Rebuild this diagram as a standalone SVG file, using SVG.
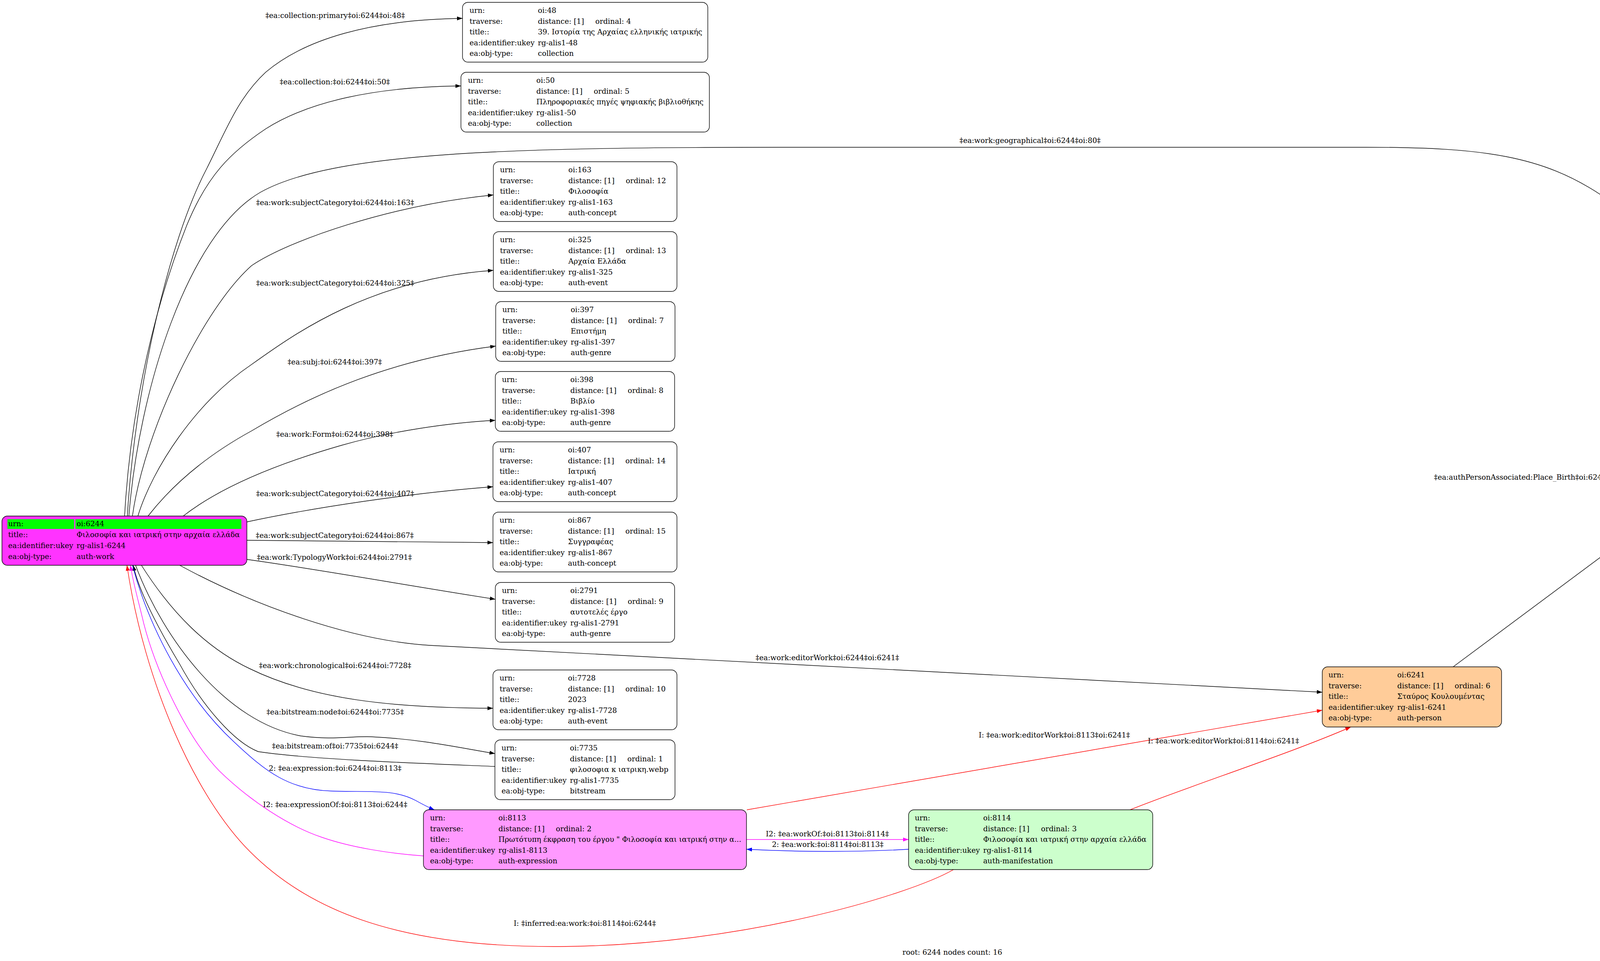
<svg xmlns="http://www.w3.org/2000/svg" width="4876" height="2460" viewBox="0 0 4876 2460">
<style>
text{font-family:"DejaVu Serif","Liberation Serif",serif;font-size:18.67px;fill:#000}
.n rect.b{stroke:#000;stroke-width:1.4;fill:#fff}
.e path{fill:none;stroke:#000;stroke-width:1.4}
.e text{text-anchor:middle}
.e.r path{stroke:#f00}
.e.bl path{stroke:#00f}
.e.m path{stroke:#f0f}
</style>
<defs>
<marker id="ak" markerUnits="userSpaceOnUse" markerWidth="14" markerHeight="10" refX="14" refY="5" orient="auto"><path d="M0,0L14,5L0,10z" fill="#000"/></marker>
<marker id="ar" markerUnits="userSpaceOnUse" markerWidth="14" markerHeight="10" refX="14" refY="5" orient="auto"><path d="M0,0L14,5L0,10z" fill="#f00"/></marker>
<marker id="ab" markerUnits="userSpaceOnUse" markerWidth="14" markerHeight="10" refX="14" refY="5" orient="auto"><path d="M0,0L14,5L0,10z" fill="#00f"/></marker>
<marker id="am" markerUnits="userSpaceOnUse" markerWidth="14" markerHeight="10" refX="14" refY="5" orient="auto"><path d="M0,0L14,5L0,10z" fill="#f0f"/></marker>
</defs>
<rect width="4876" height="2460" fill="#fff"/>

<g id="connectors">
<g class="e" id="e48"><path d="M326,1321C345,1000 430,620 530,430C580,330 610,250 680,185C780,100 950,50 1184,47" marker-end="url(#ak)"/><text x="858" y="46">‡ea:collection:primary‡oi:6244‡oi:48‡</text></g>
<g class="e" id="e50"><path d="M319,1321C331,1100 378,830 478,577C530,450 590,390 680,330C790,260 960,222 1180,220" marker-end="url(#ak)"/><text x="857" y="216">‡ea:collection:‡oi:6244‡oi:50‡</text></g>
<g class="e" id="e80"><path d="M330,1321C355,1000 480,600 667,492C850,390 1300,377 2000,377L3500,377C3800,377 3950,400 4100,500C4300,640 4480,840 4573,950" marker-end="url(#ak)"/><text x="2637" y="366">‡ea:work:geographical‡oi:6244‡oi:80‡</text></g>
<g class="e" id="e163"><path d="M339,1321C370,1100 520,790 644,680C740,615 1000,525 1263,499" marker-end="url(#ak)"/><text x="858" y="525">‡ea:work:subjectCategory‡oi:6244‡oi:163‡</text></g>
<g class="e" id="e325"><path d="M353,1321C390,1200 500,1030 644,933C760,850 950,715 1263,692" marker-end="url(#ak)"/><text x="858" y="731">‡ea:work:subjectCategory‡oi:6244‡oi:325‡</text></g>
<g class="e" id="e397"><path d="M379,1321C450,1230 540,1160 644,1103C800,1010 1000,920 1269,886" marker-end="url(#ak)"/><text x="857" y="933">‡ea:subj:‡oi:6244‡oi:397‡</text></g>
<g class="e" id="e398"><path d="M469,1321C560,1250 700,1190 874,1140C1000,1104 1150,1082 1268,1076" marker-end="url(#ak)"/><text x="857" y="1118">‡ea:work:Form‡oi:6244‡oi:398‡</text></g>
<g class="e" id="e407"><path d="M632,1336C800,1300 1050,1262 1262,1246" marker-end="url(#ak)"/><text x="858" y="1270">‡ea:work:subjectCategory‡oi:6244‡oi:407‡</text></g>
<g class="e" id="e867"><path d="M632,1383L1262,1389" marker-end="url(#ak)"/><text x="857" y="1377">‡ea:work:subjectCategory‡oi:6244‡oi:867‡</text></g>
<g class="e" id="e2791"><path d="M632,1432C800,1455 1050,1500 1268,1534" marker-end="url(#ak)"/><text x="856" y="1433">‡ea:work:TypologyWork‡oi:6244‡oi:2791‡</text></g>
<g class="e" id="e6241"><path d="M460,1447C650,1550 900,1640 1100,1652L3385,1772" marker-end="url(#ak)"/><text x="2118" y="1690">‡ea:work:editorWork‡oi:6244‡oi:6241‡</text></g>
<g class="e" id="e7728"><path d="M362,1447C440,1570 530,1660 640,1712C800,1790 1000,1812 1262,1813" marker-end="url(#ak)"/><text x="858" y="1710">‡ea:work:chronological‡oi:6244‡oi:7728‡</text></g>
<g class="e" id="e7735"><path d="M347,1447C420,1640 580,1850 771,1884C850,1895 900,1884 950,1886C1080,1892 1180,1915 1267,1929" marker-end="url(#ak)"/><text x="858" y="1829">‡ea:bitstream:node‡oi:6244‡oi:7735‡</text></g>
<g class="e" id="e7735b"><path d="M1267,1962C1100,1955 800,1945 661,1924C600,1900 520,1810 460,1700C400,1600 355,1510 341,1447" marker-end="url(#ak)"/><text x="858" y="1916">‡ea:bitstream:of‡oi:7735‡oi:6244‡</text></g>
<g class="e bl" id="e8113"><path d="M339,1447C380,1600 470,1780 600,1900C680,1975 740,2022 850,2025C950,2028 1010,2020 1064,2049C1080,2058 1095,2066 1112,2073" marker-end="url(#ab)"/><text x="858" y="1973">2: ‡ea:expression:‡oi:6244‡oi:8113‡</text></g>
<g class="e m" id="e8113b"><path d="M1084,2191C1000,2185 900,2170 823,2143C740,2115 640,2050 561,1973C480,1890 400,1720 368,1596C355,1540 340,1490 334,1447" marker-end="url(#am)"/><text x="858" y="2066">I2: ‡ea:expressionOf:‡oi:8113‡oi:6244‡</text></g>
<g class="e r" id="e8114c"><path d="M2441,2226C2330,2290 1900,2420 1434,2423C1000,2426 780,2320 640,2180C500,2040 370,1750 325,1447" marker-end="url(#ar)"/><text x="1497" y="2370">I: ‡inferred:ea:work:‡oi:8114‡oi:6244‡</text></g>
<g class="e r" id="e8113c"><path d="M1912,2073L3385,1818" marker-end="url(#ar)"/><text x="2699" y="1888">I: ‡ea:work:editorWork‡oi:8113‡oi:6241‡</text></g>
<g class="e r" id="e8114d"><path d="M2893,2073C3050,2010 3300,1930 3458,1861" marker-end="url(#ar)"/><text x="3132" y="1903">I: ‡ea:work:editorWork‡oi:8114‡oi:6241‡</text></g>
<g class="e m" id="e8114a"><path d="M1911,2149L2326,2149" marker-end="url(#am)"/><text x="2118" y="2141">I2: ‡ea:workOf:‡oi:8113‡oi:8114‡</text></g>
<g class="e bl" id="e8114b"><path d="M2326,2174C2200,2181 2050,2181 1911,2174" marker-end="url(#ab)"/><text x="2119" y="2168">2: ‡ea:work:‡oi:8114‡oi:8113‡</text></g>
<g class="e" id="e80b"><path d="M3720,1707L4532,1103" marker-end="url(#ak)"/><text x="3925" y="1228">‡ea:authPersonAssociated:Place_Birth‡oi:6241‡oi:80‡</text></g>
</g>

<g id="n6244" class="n" transform="translate(5,1321)">
<rect class="b" width="627" height="126" rx="14" style="fill:#ff33ff"/>
<rect x="14" y="8" width="171" height="25" fill="#00ff00"/>
<rect x="188" y="8" width="425" height="25" fill="#00ff00"/>
<text x="16" y="26">urn:</text><text x="191" y="26">oi:6244</text>
<text x="16" y="54">title::</text><text x="191" y="54">Φιλοσοφία και ιατρική στην αρχαία ελλάδα</text>
<text x="16" y="82">ea:identifier:ukey</text><text x="191" y="82">rg-alis1-6244</text>
<text x="16" y="110">ea:obj-type:</text><text x="191" y="110">auth-work</text>
</g>

<g id="n48" class="n" transform="translate(1184,6)">
<rect class="b" width="628" height="153" rx="14"/>
<text x="18" y="27">urn:</text><text x="193" y="27">oi:48</text>
<text x="18" y="54.6">traverse:</text><text x="193" y="54.6">distance: [1]</text><text x="340" y="54.6">ordinal: 4</text>
<text x="18" y="82.2">title::</text><text x="193" y="82.2">39. Ιστορία της Αρχαίας ελληνικής ιατρικής</text>
<text x="18" y="109.8">ea:identifier:ukey</text><text x="193" y="109.8">rg-alis1-48</text>
<text x="18" y="137.4">ea:obj-type:</text><text x="193" y="137.4">collection</text>
</g>

<g id="n50" class="n" transform="translate(1180,185)">
<rect class="b" width="636" height="153" rx="14"/>
<text x="18" y="27">urn:</text><text x="193" y="27">oi:50</text>
<text x="18" y="54.6">traverse:</text><text x="193" y="54.6">distance: [1]</text><text x="340" y="54.6">ordinal: 5</text>
<text x="18" y="82.2">title::</text><text x="193" y="82.2">Πληροφοριακές πηγές ψηφιακής βιβλιοθήκης</text>
<text x="18" y="109.8">ea:identifier:ukey</text><text x="193" y="109.8">rg-alis1-50</text>
<text x="18" y="137.4">ea:obj-type:</text><text x="193" y="137.4">collection</text>
</g>

<g id="n163" class="n" transform="translate(1263,414)">
<rect class="b" width="470" height="153" rx="14"/>
<text x="17" y="27">urn:</text><text x="192" y="27">oi:163</text>
<text x="17" y="54.6">traverse:</text><text x="192" y="54.6">distance: [1]</text><text x="339" y="54.6">ordinal: 12</text>
<text x="17" y="82.2">title::</text><text x="192" y="82.2">Φιλοσοφία</text>
<text x="17" y="109.8">ea:identifier:ukey</text><text x="192" y="109.8">rg-alis1-163</text>
<text x="17" y="137.4">ea:obj-type:</text><text x="192" y="137.4">auth-concept</text>
</g>

<g id="n325" class="n" transform="translate(1263,593)">
<rect class="b" width="470" height="153" rx="14"/>
<text x="17" y="27">urn:</text><text x="192" y="27">oi:325</text>
<text x="17" y="54.6">traverse:</text><text x="192" y="54.6">distance: [1]</text><text x="339" y="54.6">ordinal: 13</text>
<text x="17" y="82.2">title::</text><text x="192" y="82.2">Αρχαία Ελλάδα</text>
<text x="17" y="109.8">ea:identifier:ukey</text><text x="192" y="109.8">rg-alis1-325</text>
<text x="17" y="137.4">ea:obj-type:</text><text x="192" y="137.4">auth-event</text>
</g>

<g id="n397" class="n" transform="translate(1269,772)">
<rect class="b" width="459" height="153" rx="14"/>
<text x="17" y="27">urn:</text><text x="192" y="27">oi:397</text>
<text x="17" y="54.6">traverse:</text><text x="192" y="54.6">distance: [1]</text><text x="339" y="54.6">ordinal: 7</text>
<text x="17" y="82.2">title::</text><text x="192" y="82.2">Επιστήμη</text>
<text x="17" y="109.8">ea:identifier:ukey</text><text x="192" y="109.8">rg-alis1-397</text>
<text x="17" y="137.4">ea:obj-type:</text><text x="192" y="137.4">auth-genre</text>
</g>

<g id="n398" class="n" transform="translate(1268,951)">
<rect class="b" width="459" height="153" rx="14"/>
<text x="17" y="27">urn:</text><text x="192" y="27">oi:398</text>
<text x="17" y="54.6">traverse:</text><text x="192" y="54.6">distance: [1]</text><text x="339" y="54.6">ordinal: 8</text>
<text x="17" y="82.2">title::</text><text x="192" y="82.2">Βιβλίο</text>
<text x="17" y="109.8">ea:identifier:ukey</text><text x="192" y="109.8">rg-alis1-398</text>
<text x="17" y="137.4">ea:obj-type:</text><text x="192" y="137.4">auth-genre</text>
</g>

<g id="n407" class="n" transform="translate(1262,1131)">
<rect class="b" width="471" height="153" rx="14"/>
<text x="17" y="27">urn:</text><text x="192" y="27">oi:407</text>
<text x="17" y="54.6">traverse:</text><text x="192" y="54.6">distance: [1]</text><text x="339" y="54.6">ordinal: 14</text>
<text x="17" y="82.2">title::</text><text x="192" y="82.2">Ιατρική</text>
<text x="17" y="109.8">ea:identifier:ukey</text><text x="192" y="109.8">rg-alis1-407</text>
<text x="17" y="137.4">ea:obj-type:</text><text x="192" y="137.4">auth-concept</text>
</g>

<g id="n867" class="n" transform="translate(1262,1311)">
<rect class="b" width="471" height="153" rx="14"/>
<text x="17" y="27">urn:</text><text x="192" y="27">oi:867</text>
<text x="17" y="54.6">traverse:</text><text x="192" y="54.6">distance: [1]</text><text x="339" y="54.6">ordinal: 15</text>
<text x="17" y="82.2">title::</text><text x="192" y="82.2">Συγγραφέας</text>
<text x="17" y="109.8">ea:identifier:ukey</text><text x="192" y="109.8">rg-alis1-867</text>
<text x="17" y="137.4">ea:obj-type:</text><text x="192" y="137.4">auth-concept</text>
</g>

<g id="n2791" class="n" transform="translate(1268,1491)">
<rect class="b" width="459" height="153" rx="14"/>
<text x="17" y="27">urn:</text><text x="192" y="27">oi:2791</text>
<text x="17" y="54.6">traverse:</text><text x="192" y="54.6">distance: [1]</text><text x="339" y="54.6">ordinal: 9</text>
<text x="17" y="82.2">title::</text><text x="192" y="82.2">αυτοτελές έργο</text>
<text x="17" y="109.8">ea:identifier:ukey</text><text x="192" y="109.8">rg-alis1-2791</text>
<text x="17" y="137.4">ea:obj-type:</text><text x="192" y="137.4">auth-genre</text>
</g>

<g id="n7728" class="n" transform="translate(1262,1715)">
<rect class="b" width="471" height="153" rx="14"/>
<text x="17" y="27">urn:</text><text x="192" y="27">oi:7728</text>
<text x="17" y="54.6">traverse:</text><text x="192" y="54.6">distance: [1]</text><text x="339" y="54.6">ordinal: 10</text>
<text x="17" y="82.2">title::</text><text x="192" y="82.2">2023</text>
<text x="17" y="109.8">ea:identifier:ukey</text><text x="192" y="109.8">rg-alis1-7728</text>
<text x="17" y="137.4">ea:obj-type:</text><text x="192" y="137.4">auth-event</text>
</g>

<g id="n7735" class="n" transform="translate(1267,1894)">
<rect class="b" width="461" height="153" rx="14"/>
<text x="17" y="27">urn:</text><text x="192" y="27">oi:7735</text>
<text x="17" y="54.6">traverse:</text><text x="192" y="54.6">distance: [1]</text><text x="339" y="54.6">ordinal: 1</text>
<text x="17" y="82.2">title::</text><text x="192" y="82.2">φιλοσοφια κ ιατρικη.webp</text>
<text x="17" y="109.8">ea:identifier:ukey</text><text x="192" y="109.8">rg-alis1-7735</text>
<text x="17" y="137.4">ea:obj-type:</text><text x="192" y="137.4">bitstream</text>
</g>

<g id="n8113" class="n" transform="translate(1084,2073)">
<rect class="b" width="827" height="153" rx="14" style="fill:#ff99ff"/>
<text x="17" y="27">urn:</text><text x="192" y="27">oi:8113</text>
<text x="17" y="54.6">traverse:</text><text x="192" y="54.6">distance: [1]</text><text x="339" y="54.6">ordinal: 2</text>
<text x="17" y="82.2">title::</text><text x="192" y="82.2">Πρωτότυπη έκφραση του έργου " Φιλοσοφία και ιατρική στην α...</text>
<text x="17" y="109.8">ea:identifier:ukey</text><text x="192" y="109.8">rg-alis1-8113</text>
<text x="17" y="137.4">ea:obj-type:</text><text x="192" y="137.4">auth-expression</text>
</g>

<g id="n8114" class="n" transform="translate(2326,2073)">
<rect class="b" width="625" height="153" rx="14" style="fill:#ccffcc"/>
<text x="16" y="27">urn:</text><text x="191" y="27">oi:8114</text>
<text x="16" y="54.6">traverse:</text><text x="191" y="54.6">distance: [1]</text><text x="339" y="54.6">ordinal: 3</text>
<text x="16" y="82.2">title::</text><text x="191" y="82.2">Φιλοσοφία και ιατρική στην αρχαία ελλάδα</text>
<text x="16" y="109.8">ea:identifier:ukey</text><text x="191" y="109.8">rg-alis1-8114</text>
<text x="16" y="137.4">ea:obj-type:</text><text x="191" y="137.4">auth-manifestation</text>
</g>

<g id="n6241" class="n" transform="translate(3385,1707)">
<rect class="b" width="459" height="154" rx="14" style="fill:#ffcc99"/>
<text x="16" y="27">urn:</text><text x="192" y="27">oi:6241</text>
<text x="16" y="54.6">traverse:</text><text x="192" y="54.6">distance: [1]</text><text x="339" y="54.6">ordinal: 6</text>
<text x="16" y="82.2">title::</text><text x="192" y="82.2">Σταύρος Κουλουμέντας</text>
<text x="16" y="109.8">ea:identifier:ukey</text><text x="192" y="109.8">rg-alis1-6241</text>
<text x="16" y="137.4">ea:obj-type:</text><text x="192" y="137.4">auth-person</text>
</g>

<g id="n80" class="n" transform="translate(4400,950)">
<rect class="b" width="471" height="153" rx="14"/>
<text x="17" y="27">urn:</text><text x="192" y="27">oi:80</text>
<text x="17" y="54.6">traverse:</text><text x="192" y="54.6">distance: [1]</text><text x="339" y="54.6">ordinal: 11</text>
<text x="17" y="82.2">title::</text><text x="192" y="82.2">Ελλάδα</text>
<text x="17" y="109.8">ea:identifier:ukey</text><text x="192" y="109.8">rg-alis1-80</text>
<text x="17" y="137.4">ea:obj-type:</text><text x="192" y="137.4">auth-place</text>
</g>

<text id="caption" x="2438" y="2444" text-anchor="middle">root: 6244 nodes count: 16</text>
</svg>
